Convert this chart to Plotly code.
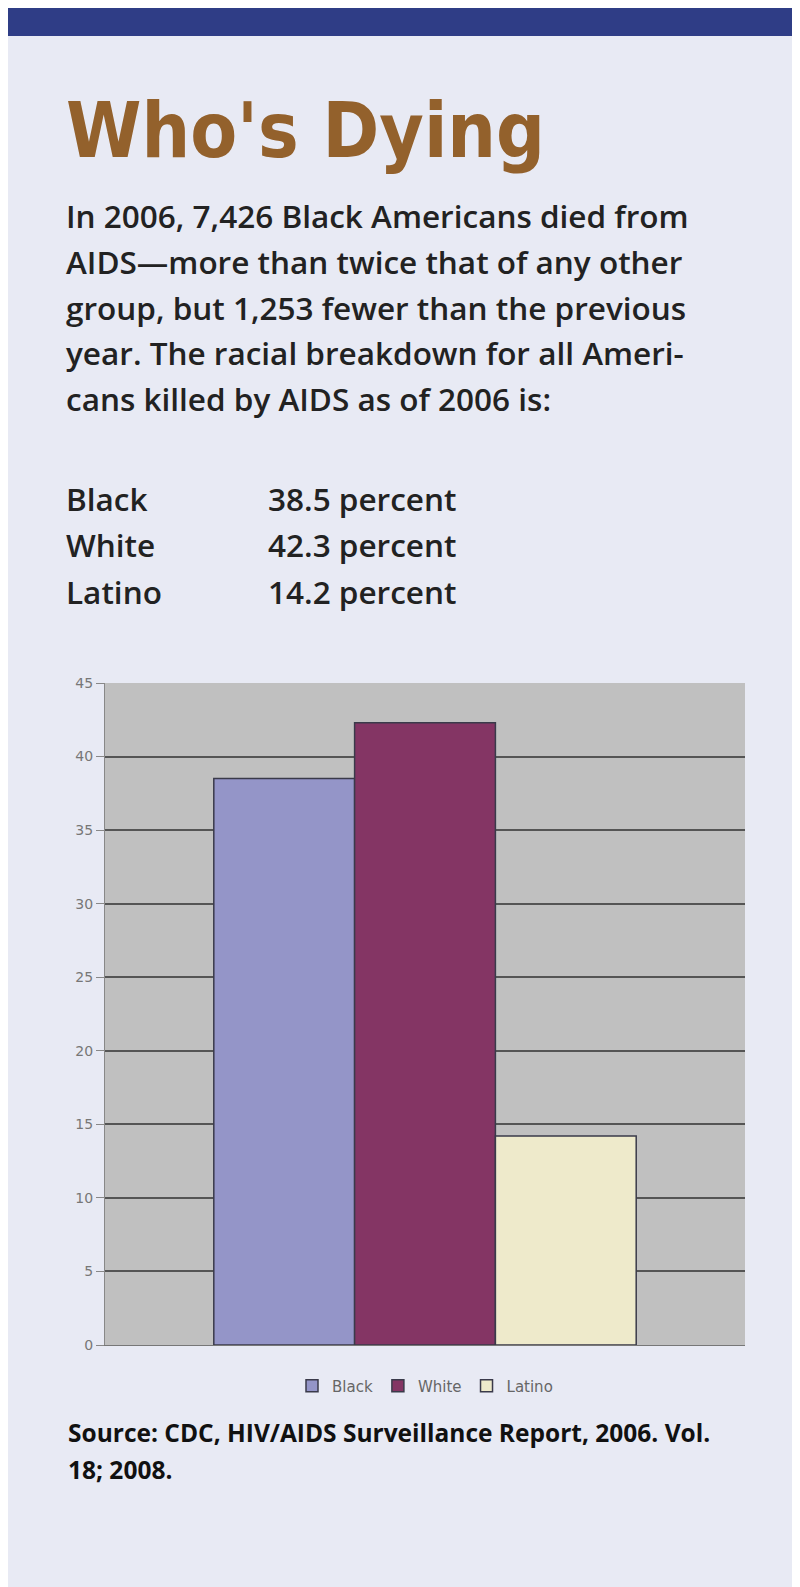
import plotly.graph_objects as go

# Data
groups = ["Black", "White", "Latino"]
percents = [38.5, 42.3, 14.2]
colors = ["#9495c8", "#843564", "#eeeacb"]

intro_lines = [
    "In 2006, 7,426 Black Americans died from",
    "AIDS\u2014more than twice that of any other",
    "group, but 1,253 fewer than the previous",
    "year. The racial breakdown for all Ameri-",
    "cans killed by AIDS as of 2006 is:",
]
source_lines = [
    "Source: CDC, HIV/AIDS Surveillance Report, 2006. Vol.",
    "18; 2008.",
]

W, H = 800, 1587
L, R, T, B = 97, 737, 675, 1337


def px(x):
    return (x - L) / (R - L)


def py(y):
    return (B - y) / (B - T)


fig = go.Figure()
for g, v, c in zip(groups, percents, colors):
    fig.add_trace(go.Bar(
        x=["2006"], y=[v], name=g,
        marker=dict(color=c, line=dict(color="#3a3a4a", width=1.5)),
    ))

body_font = dict(family="Open Sans", size=31.5, color="#222222", weight=600)

ann = []
ann.append(dict(x=px(56), y=py(122), text="<b>Who's Dying</b>",
                font=dict(family="DejaVu Sans Condensed, Liberation Sans Narrow, sans-serif",
                          size=76, color="#93612c")))
for i, line in enumerate(intro_lines):
    ann.append(dict(x=px(56), y=py(208 + 45.5 * i), text=line, font=body_font))
for i, (g, v) in enumerate(zip(groups, percents)):
    y = py(490 + 46.5 * i)
    ann.append(dict(x=px(56), y=y, text=g, font=body_font))
    ann.append(dict(x=px(258), y=y, text=f"{v} percent", font=body_font))
for i, line in enumerate(source_lines):
    ann.append(dict(x=px(58), y=py(1424 + 37 * i), text=f"<b>{line}</b>",
                    font=dict(family="Open Sans", size=24.5, color="#111111")))
for a in ann:
    a.update(xref="paper", yref="paper", xanchor="left", yanchor="middle", showarrow=False)

fig.update_layout(
    width=W, height=H,
    margin=dict(l=L, r=W - R, t=T, b=H - B),
    paper_bgcolor="#e8eaf4",
    plot_bgcolor="#c0c0c0",
    barmode="group", bargap=0.34, bargroupgap=0,
    annotations=ann,
    shapes=[dict(type="rect", xref="paper", yref="paper",
                 x0=px(0), x1=px(W), y0=py(28), y1=py(0),
                 fillcolor="#2f3d86", line=dict(width=0), layer="above")],
    xaxis=dict(showticklabels=False, showline=True, linecolor="#777777",
               showgrid=False, fixedrange=True),
    yaxis=dict(range=[0, 45], dtick=5, showgrid=True, gridcolor="#555555",
               gridwidth=2, ticks="outside", tickcolor="#888888", ticklen=8,
               showline=True, linecolor="#888888",
               tickfont=dict(family="DejaVu Sans", size=14, color="#777777"),
               zeroline=False),
    legend=dict(orientation="h", x=0.5, xanchor="center", y=py(1378), yanchor="middle",
                font=dict(family="DejaVu Sans", size=15, color="#666666"),
                bgcolor="rgba(0,0,0,0)"),
    showlegend=True,
)

fig.write_html("out.html")
